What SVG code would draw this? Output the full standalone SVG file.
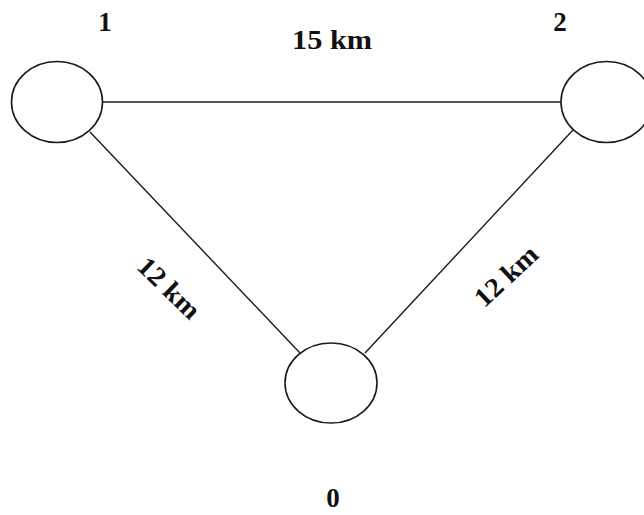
<svg xmlns="http://www.w3.org/2000/svg" width="644" height="515" viewBox="0 0 644 515">
  <style>
    .edge { stroke: #1a1a1a; stroke-width: 1.4; fill: none; }
    .node { fill: #ffffff; stroke: #1a1a1a; stroke-width: 1.6; }
    .lbl { font-family: "Liberation Serif", "Times New Roman", serif; font-weight: bold; font-size: 27px; fill: #111; text-anchor: middle; }
  </style>
  <rect width="644" height="515" fill="#ffffff"/>
  <g id="connectors">
    <line class="edge" x1="103" y1="102" x2="561" y2="102"/>
    <line class="edge" x1="90" y1="132" x2="300" y2="353"/>
    <line class="edge" x1="573" y1="130" x2="365" y2="353"/>
    <text class="lbl" x="332" y="49" textLength="80" lengthAdjust="spacingAndGlyphs">15 km</text>
    <text class="lbl" transform="translate(169,288) rotate(44)" x="0" y="9" textLength="76" lengthAdjust="spacingAndGlyphs">12 km</text>
    <text class="lbl" transform="translate(506,276) rotate(-43)" x="0" y="9" textLength="76" lengthAdjust="spacingAndGlyphs">12 km</text>
  </g>
  <g id="node1">
    <ellipse class="node" cx="57" cy="102" rx="45.5" ry="40.5"/>
    <text class="lbl" x="105" y="31">1</text>
  </g>
  <g id="node2">
    <ellipse class="node" cx="606.5" cy="102" rx="45.5" ry="40.5"/>
    <text class="lbl" x="560" y="31">2</text>
  </g>
  <g id="node0">
    <ellipse class="node" cx="331" cy="383" rx="46" ry="40"/>
    <text class="lbl" x="333" y="507">0</text>
  </g>
</svg>
